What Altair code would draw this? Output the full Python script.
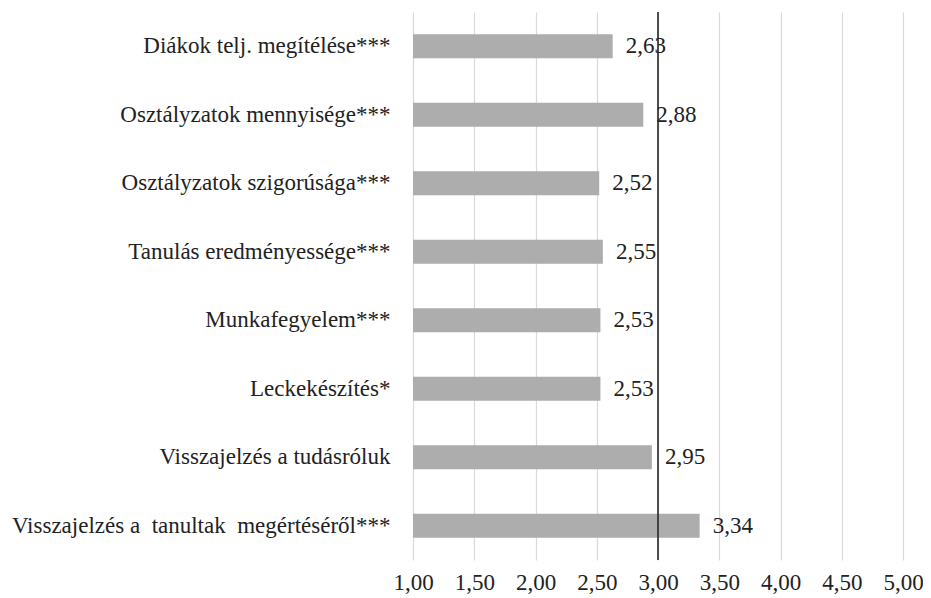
import altair as alt
import pandas as pd

categories = [
    "Diákok telj. megítélése***",
    "Osztályzatok mennyisége***",
    "Osztályzatok szigorúsága***",
    "Tanulás eredményessége***",
    "Munkafegyelem***",
    "Leckekészítés*",
    "Visszajelzés a tudásróluk",
    "Visszajelzés a\u00a0 tanultak\u00a0 megértéséről***",
]
values = [2.63, 2.88, 2.52, 2.55, 2.53, 2.53, 2.95, 3.34]
tick_values = [1.0, 1.5, 2.0, 2.5, 3.0, 3.5, 4.0, 4.5, 5.0]
reference_value = 3.0

df = pd.DataFrame({"cat": categories, "val": values})
ref_df = pd.DataFrame({"ref": [reference_value]})

FONT = "Liberation Serif"
FS = 23
TXT = "#222222"

x_scale = alt.Scale(domain=[1, 5], zero=False, nice=False)
y_enc = alt.Y("cat:N", sort=None, title=None,
              axis=alt.Axis(domain=False, ticks=False, labelPadding=23,
                            labelFont=FONT, labelFontSize=FS, labelColor=TXT,
                            labelLimit=500))

bars = alt.Chart(df).mark_bar(color="#adadad", size=24).encode(
    x=alt.X("val:Q", scale=x_scale, title=None,
            axis=alt.Axis(values=tick_values, grid=True, gridColor="#d9d9d9",
                          gridWidth=1.2, domain=False, ticks=False,
                          labelPadding=29, labelBaseline="alphabetic",
                          labelFlush=False, labelOverlap=False,
                          labelFont=FONT, labelFontSize=FS, labelColor=TXT,
                          labelExpr="replace(format(datum.value, '.2f'), '.', ',')")),
    x2=alt.datum(1),
    y=y_enc,
)

labels = alt.Chart(df).transform_calculate(
    lab="replace(format(datum.val, '.2f'), '.', ',')"
).mark_text(align="left", baseline="middle", dx=13, font=FONT,
            fontSize=FS, color=TXT).encode(
    x=alt.X("val:Q", scale=x_scale),
    y=alt.Y("cat:N", sort=None),
    text="lab:N",
)

rule = alt.Chart(ref_df).mark_rule(color="#262626", strokeWidth=1.6).encode(
    x=alt.X("ref:Q", scale=x_scale)
)

chart = alt.layer(bars, labels, rule).properties(
    width=490, height=548,
    autosize=alt.AutoSizeParams(type="none"),
    padding={"left": 405, "top": 4, "right": 20, "bottom": 36},
).configure_view(stroke=None)

chart.save("out.html", embed_options={"renderer": "svg", "actions": False})
